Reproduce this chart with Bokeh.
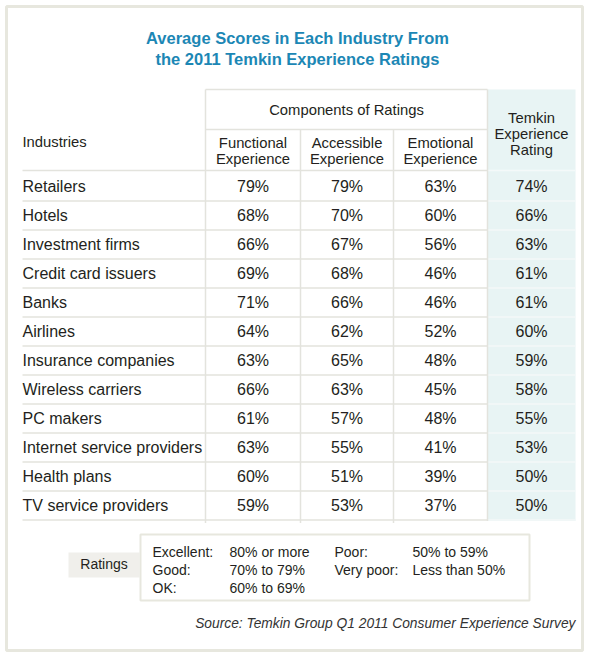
from bokeh.plotting import figure
from bokeh.models import Range1d
from bokeh.core.properties import value
from bokeh.embed import file_html
from bokeh.resources import INLINE

# ---------------- data ----------------
industries = ["Retailers", "Hotels", "Investment firms", "Credit card issuers", "Banks",
              "Airlines", "Insurance companies", "Wireless carriers", "PC makers",
              "Internet service providers", "Health plans", "TV service providers"]
functional = [79, 68, 66, 69, 71, 64, 63, 66, 61, 63, 60, 59]
accessible = [79, 70, 67, 68, 66, 62, 65, 63, 57, 55, 51, 53]
emotional = [63, 60, 56, 46, 46, 52, 48, 45, 48, 41, 39, 37]
rating = [74, 66, 63, 61, 61, 60, 59, 58, 55, 53, 50, 50]

title_lines = ["Average Scores in Each Industry From", "the 2011 Temkin Experience Ratings"]
group_header = "Components of Ratings"
col_headers = [["Functional", "Experience"], ["Accessible", "Experience"], ["Emotional", "Experience"]]
rating_header = ["Temkin", "Experience", "Rating"]
legend_names = ["Excellent:", "Good:", "OK:", "Poor:", "Very poor:"]
legend_ranges = ["80% or more", "70% to 79%", "60% to 69%", "50% to 59%", "Less than 50%"]
source_text = "Source: Temkin Group Q1 2011 Consumer Experience Survey"

# ---------------- layout ----------------
FONT = value("Liberation Sans")
TXT = "#231f20"
GRID = "#e3e3dd"
TEAL_BG = "#e8f4f4"

p = figure(width=584, height=652, x_range=Range1d(0, 584), y_range=Range1d(652, 0),
           output_backend="svg", toolbar_location=None, min_border=0)
p.axis.visible = False
p.grid.visible = False
p.outline_line_color = None
p.background_fill_color = "white"

# outer frame
p.quad(left=[6], right=[582], top=[6], bottom=[650], fill_color=None,
       line_color="#e7e7de", line_width=3)

# title
p.text(x=[297, 297], y=[37, 58], text=title_lines, text_font=FONT, text_font_size="16.5px",
       text_font_style="bold", text_color="#1c87b5", text_align="center", text_baseline="middle")

# columns
col_x = [252.5, 346.5, 440, 531]
row0, step = 186, 29.0
n = len(industries)
row_y = [row0 + step * i for i in range(n)]
table_bottom = row_y[-1] + step / 2 + 1

# teal rating column
p.quad(left=[487], right=[575], top=[89], bottom=[table_bottom], fill_color=TEAL_BG, line_color=None)

# grid lines
line_ys = [170] + [y + step / 2 for y in row_y]
p.segment(x0=[22] * len(line_ys), x1=[487] * len(line_ys), y0=line_ys, y1=line_ys,
          line_color=GRID, line_width=1.5)
p.segment(x0=[487] * len(line_ys), x1=[575] * len(line_ys), y0=line_ys, y1=line_ys,
          line_color="#f4f9f9", line_width=1.5)
# components box
p.segment(x0=[205, 205, 205, 300, 393, 487], x1=[487, 487, 205, 300, 393, 487],
          y0=[89, 129, 89, 129, 129, 89],
          y1=[89, 129, table_bottom + 2, table_bottom + 2, table_bottom + 2, table_bottom],
          line_color=GRID, line_width=1.5)

# headers
HS = "14.8px"
p.text(x=[22], y=[141], text=["Industries"], text_font=FONT, text_font_size=HS,
       text_color=TXT, text_baseline="middle")
p.text(x=[346], y=[109], text=[group_header], text_font=FONT, text_font_size=HS,
       text_color=TXT, text_align="center", text_baseline="middle")
hx, hy, ht = [], [], []
for cx, lines in zip(col_x[:3], col_headers):
    for k, t in enumerate(lines):
        hx.append(cx); hy.append(142 + 16 * k); ht.append(t)
for k, t in enumerate(rating_header):
    hx.append(col_x[3]); hy.append(117 + 16 * k); ht.append(t)
p.text(x=hx, y=hy, text=ht, text_font=FONT, text_font_size=HS, text_color=TXT,
       text_align="center", text_baseline="middle")

# body
p.text(x=[22] * n, y=row_y, text=industries, text_font=FONT, text_font_size="16px",
       text_color=TXT, text_baseline="middle")
vx, vy, vt = [], [], []
for cx, series in zip(col_x, [functional, accessible, emotional, rating]):
    for y, v in zip(row_y, series):
        vx.append(cx); vy.append(y); vt.append(f"{v}%")
p.text(x=vx, y=vy, text=vt, text_font=FONT, text_font_size="16px", text_color=TXT,
       text_align="center", text_baseline="middle")

# ratings legend
p.quad(left=[68], right=[139], top=[552], bottom=[577], fill_color="#f0efeb", line_color=None)
p.text(x=[103.5], y=[563], text=["Ratings"], text_font=FONT, text_font_size="14px",
       text_color=TXT, text_align="center", text_baseline="middle")
p.quad(left=[140], right=[529], top=[534], bottom=[600], fill_color="white",
       line_color="#e7e7de", line_width=2)
lx_name = [152, 152, 152, 334, 334]
lx_rng = [229, 229, 229, 412, 412]
ly = [551, 569, 587, 551, 569]
p.text(x=lx_name, y=ly, text=legend_names, text_font=FONT, text_font_size="14px",
       text_color=TXT, text_baseline="middle")
p.text(x=lx_rng, y=ly, text=legend_ranges, text_font=FONT, text_font_size="14px",
       text_color=TXT, text_baseline="middle")

# source
p.text(x=[575], y=[623], text=[source_text], text_font=FONT, text_font_size="13.8px",
       text_font_style="italic", text_color="#333333", text_align="right", text_baseline="middle")

open("out.html", "w").write(file_html(p, INLINE))
